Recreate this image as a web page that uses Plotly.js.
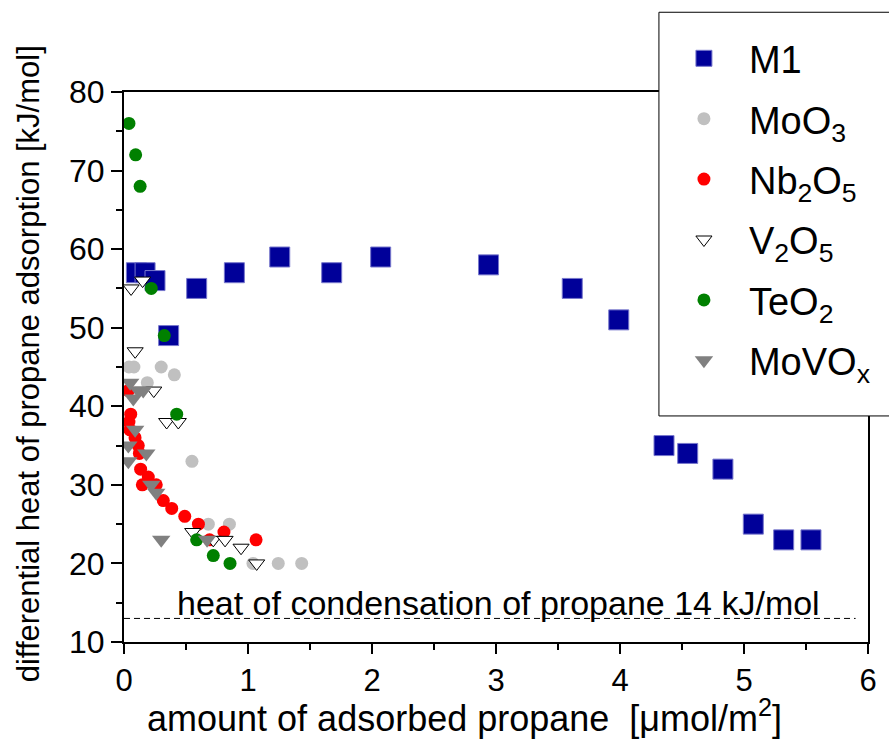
<!DOCTYPE html>
<html>
<head>
<meta charset="utf-8">
<script src="https://cdn.plot.ly/plotly-3.0.1.min.js"></script>
<style>html,body{margin:0;padding:0;background:#fff;}#chart{width:889px;height:748px;}</style>
</head>
<body>
<div id="chart"></div>
<script>
// ---- data ----
const seriesNames = ["M1", "MoO<sub>3</sub>", "Nb<sub>2</sub>O<sub>5</sub>", "V<sub>2</sub>O<sub>5</sub>", "TeO<sub>2</sub>", "MoVO<sub>x</sub>"];

const m1X = [0.10, 0.17, 0.25, 0.36, 0.586, 0.89, 1.256, 1.675, 2.07, 2.94, 3.615, 3.99, 4.355, 4.546, 4.83, 5.075, 5.32, 5.54];
const m1Y = [57, 57, 56, 49, 55, 57, 59, 57, 59, 58, 55, 51, 35, 34, 32, 25, 23, 23];

const moo3X = [0.04, 0.08, 0.30, 0.406, 0.188, 0.548, 0.68, 0.85, 1.04, 1.244, 1.433];
const moo3Y = [45, 45, 45, 44, 43, 33, 25, 25, 20, 20, 20];

const nb2o5X = [0.035, 0.054, 0.04, 0.048, 0.089, 0.115, 0.124, 0.134, 0.196, 0.148, 0.26, 0.317, 0.385, 0.49, 0.60, 0.69, 0.806, 1.065];
const nb2o5Y = [42, 39, 38, 37, 36, 35, 34, 32, 31, 30, 30, 28, 27, 26, 25, 23, 24, 23];

const v2o5X = [0.057, 0.15, 0.09, 0.24, 0.344, 0.438, 0.554, 0.72, 0.815, 0.944, 1.07];
const v2o5Y = [55, 56, 47, 42, 38, 38, 24, 23, 23, 22, 20];

const teo2X = [0.04, 0.094, 0.13, 0.22, 0.325, 0.425, 0.586, 0.72, 0.855];
const teo2Y = [76, 72, 68, 55, 49, 39, 23, 21, 20];

const movoxX = [0.05, 0.075, 0.115, 0.155, 0.09, 0.035, 0.18, 0.035, 0.22, 0.26, 0.30, 0.67];
const movoxY = [43, 41, 42, 42, 37, 35, 34, 33, 30, 29, 23, 23];

const condensationHeat = 13;   // drawn level of the dashed line
const condensationLabel = "heat of condensation of propane 14 kJ/mol";
const condensationXRange = [0, 5.9];

const xTitle = "amount of adsorbed propane  [\u03bcmol/m<sup>2</sup>]";
const yTitle = "differential heat of propane adsorption [kJ/mol]";

// ---- traces ----
const FONT = "Liberation Sans, Arial, sans-serif";
const traces = [
  {x: m1X, y: m1Y, name: seriesNames[0], legendgroup: "g1", mode: "markers", type: "scatter",
   marker: {symbol: "square", size: 20, color: "#000099", line: {color: "#7777cc", width: 1}}},
  {x: moo3X, y: moo3Y, name: seriesNames[1], legendgroup: "g2", mode: "markers", type: "scatter",
   marker: {symbol: "circle", size: 13, color: "#c0c0c0", line: {width: 0}}},
  {x: nb2o5X, y: nb2o5Y, name: seriesNames[2], legendgroup: "g3", mode: "markers", type: "scatter",
   marker: {symbol: "circle", size: 13, color: "#ff0000", line: {width: 0}}},
  {x: v2o5X, y: v2o5Y, name: seriesNames[3], legendgroup: "g4", mode: "markers", type: "scatter",
   marker: {symbol: "triangle-down", size: 14, color: "#ffffff", line: {color: "#000000", width: 1}}},
  {x: teo2X, y: teo2Y, name: seriesNames[4], legendgroup: "g5", mode: "markers", type: "scatter",
   marker: {symbol: "circle", size: 13, color: "#008000", line: {width: 0}}},
  {x: movoxX, y: movoxY, name: seriesNames[5], legendgroup: "g6", mode: "markers", type: "scatter",
   marker: {symbol: "triangle-down", size: 16, color: "#808080", line: {width: 0}}}
];
traces.push({x: condensationXRange, y: [condensationHeat, condensationHeat], mode: "lines", type: "scatter",
  showlegend: false, hoverinfo: "skip", line: {color: "#000", width: 1, dash: "6px,4px"}});

const layout = {
  width: 889, height: 748,
  margin: {l: 124, r: 21, t: 92, b: 106},
  paper_bgcolor: "#fff", plot_bgcolor: "#fff",
  font: {family: FONT, color: "#000"},
  showlegend: true,
  xaxis: {
    range: [0, 6], dtick: 1, tick0: 0, showgrid: false, zeroline: false,
    showline: true, linecolor: "#000", linewidth: 2, mirror: true,
    ticks: "outside", ticklen: 10, tickwidth: 2, tickcolor: "#000",
    minor: {dtick: 0.5, ticks: "outside", ticklen: 6, tickwidth: 2, tickcolor: "#000", showgrid: false},
    tickfont: {size: 31, family: FONT}
  },
  yaxis: {
    range: [10, 80], dtick: 10, tick0: 10, showgrid: false, zeroline: false,
    showline: true, linecolor: "#000", linewidth: 2, mirror: true,
    ticks: "outside", ticklen: 11, tickwidth: 2, tickcolor: "#000",
    minor: {dtick: 5, ticks: "outside", ticklen: 6, tickwidth: 2, tickcolor: "#000", showgrid: false},
    tickfont: {size: 32, family: FONT}
  },
  legend: {
    x: 0.719, y: 1.118, xanchor: "left", yanchor: "top",
    bgcolor: "rgba(0,0,0,0)", borderwidth: 0,
    font: {size: 38, family: FONT, color: "#000"},
    itemsizing: "trace", itemwidth: 80, traceorder: "grouped", tracegroupgap: 8
  },
  shapes: [{
    type: "rect", xref: "paper", yref: "paper", x0: 0.719, x1: 1.04, y0: 0.411, y1: 1.145,
    line: {color: "#000", width: 1}, fillcolor: "#fff", layer: "above"
  }],
  annotations: [
    {x: 3.02, y: 15.0, xref: "x", yref: "y", text: condensationLabel, showarrow: false,
     font: {size: 34, family: FONT, color: "#000"}},
    {x: 0.458, y: -0.1345, xref: "paper", yref: "paper", yanchor: "middle", xanchor: "center",
     text: xTitle, showarrow: false, font: {size: 36, family: FONT, color: "#000"}},
    {x: -0.129, y: 0.505, xref: "paper", yref: "paper", yanchor: "middle", xanchor: "center",
     textangle: -90, text: yTitle, showarrow: false, font: {size: 31, family: FONT, color: "#000"}}
  ]
};

Plotly.newPlot("chart", traces, layout, {displayModeBar: false, staticPlot: true});
</script>
</body>
</html>
